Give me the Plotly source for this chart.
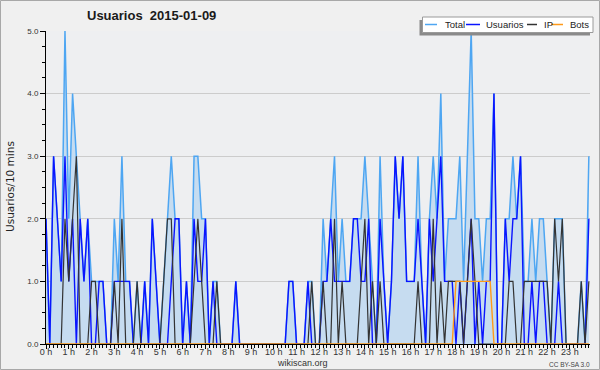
import plotly.graph_objects as go

# ---- data (10-minute slots, 2015-01-09) ----
hour_labels = [f"{h} h" for h in range(24)]
hours = list(range(24))
slots_per_hour = 6

usuarios = [
    2, 0, 3, 2, 1, 3,
    1, 2, 0, 2, 1, 2,
    0, 0, 1, 1, 0, 0,
    1, 1, 1, 1, 1, 0,
    0, 0, 1, 0, 2, 1,
    0, 0, 0, 1, 2, 2,
    0, 1, 0, 2, 1, 1,
    2, 0, 1, 0, 0, 0,
    0, 0, 1, 0, 0, 0,
    0, 0, 0, 0, 0, 0,
    0, 0, 0, 0, 1, 1,
    0, 0, 0, 1, 0, 0,
    0, 1, 1, 2, 1, 1,
    1, 1, 1, 2, 2, 1,
    1, 2, 0, 0, 2, 1,
    0, 1, 3, 2, 3, 1,
    1, 1, 2, 1, 0, 2,
    1, 2, 3, 1, 1, 1,
    0, 1, 0, 1, 2, 0,
    1, 0, 1, 1, 4, 0,
    0, 2, 1, 2, 2, 3,
    0, 0, 1, 0, 1, 1,
    0, 0, 0, 1, 0, 0,
    0, 0, 0, 0, 0, 2,
]

ip = [
    0, 0, 0, 0, 0, 2,
    1, 2, 3, 0, 0, 0,
    1, 1, 0, 0, 0, 0,
    1, 0, 2, 0, 0, 0,
    1, 0, 0, 0, 0, 0,
    0, 1, 2, 2, 0, 0,
    0, 0, 0, 1, 2, 1,
    0, 0, 0, 1, 0, 0,
    0, 0, 0, 0, 0, 0,
    0, 0, 0, 0, 0, 0,
    0, 0, 0, 0, 0, 0,
    0, 0, 0, 0, 1, 0,
    0, 1, 0, 0, 2, 0,
    1, 0, 0, 0, 0, 1,
    2, 0, 1, 0, 1, 0,
    0, 0, 0, 0, 0, 0,
    0, 0, 1, 0, 0, 0,
    2, 0, 1, 0, 1, 1,
    1, 1, 0, 1, 2, 1,
    0, 0, 0, 0, 0, 0,
    0, 0, 1, 1, 0, 0,
    1, 1, 1, 1, 1, 1,
    1, 0, 2, 1, 2, 0,
    0, 0, 0, 1, 0, 1,
]

bots = [
    0, 0, 0, 0, 0, 0,
    0, 0, 0, 0, 0, 0,
    0, 0, 0, 0, 0, 0,
    0, 0, 0, 0, 0, 0,
    0, 0, 0, 0, 0, 0,
    0, 0, 0, 0, 0, 0,
    0, 0, 0, 0, 0, 0,
    0, 0, 0, 0, 0, 0,
    0, 0, 0, 0, 0, 0,
    0, 0, 0, 0, 0, 0,
    0, 0, 0, 0, 0, 0,
    0, 0, 0, 0, 0, 0,
    0, 0, 0, 0, 0, 0,
    0, 0, 0, 0, 0, 0,
    0, 0, 0, 0, 0, 0,
    0, 0, 0, 0, 0, 0,
    0, 0, 0, 0, 0, 0,
    0, 0, 0, 0, 0, 0,
    1, 1, 1, 1, 1, 1,
    1, 1, 1, 1, 0, 0,
    0, 0, 0, 0, 0, 0,
    0, 0, 0, 0, 0, 0,
    0, 0, 0, 0, 0, 0,
    0, 0, 0, 0, 0, 0,
]

total = [
    2, 0, 3, 2, 1, 5,
    2, 4, 3, 2, 1, 2,
    1, 1, 1, 1, 0, 0,
    2, 1, 3, 1, 1, 0,
    1, 0, 1, 0, 2, 1,
    0, 1, 2, 3, 2, 2,
    0, 1, 0, 3, 3, 2,
    2, 0, 1, 1, 0, 0,
    0, 0, 1, 0, 0, 0,
    0, 0, 0, 0, 0, 0,
    0, 0, 0, 0, 1, 1,
    0, 0, 0, 1, 1, 0,
    0, 2, 1, 2, 3, 1,
    2, 1, 1, 2, 2, 2,
    3, 2, 1, 0, 3, 1,
    0, 1, 3, 2, 3, 1,
    1, 1, 3, 1, 0, 2,
    3, 2, 4, 1, 2, 2,
    2, 3, 1, 3, 5, 2,
    2, 1, 2, 2, 4, 0,
    0, 2, 2, 3, 2, 3,
    1, 1, 2, 1, 2, 2,
    1, 0, 2, 2, 2, 0,
    0, 0, 0, 1, 0, 3,
]

x = [i / slots_per_hour for i in range(len(total))]

# ---- layout geometry (pixels) ----
W, H = 600, 370
L, R, T, B = 46, 10, 31, 26
PW, PH = W - L - R, H - T - B


def px(xp):
    return (xp - L) / PW


def py(yp):
    return (H - B - yp) / PH


FONT = "Liberation Sans, Arial, sans-serif"

fig = go.Figure()
fig.add_trace(go.Scatter(x=x, y=total, mode="lines", name="Total",
                         line=dict(color="#4ea6f2", width=1.5),
                         fill="tozeroy", fillcolor="#c6dcf0"))
fig.add_trace(go.Scatter(x=x, y=usuarios, mode="lines", name="Usuarios",
                         line=dict(color="#0a14ff", width=1.4)))
fig.add_trace(go.Scatter(x=x, y=ip, mode="lines", name="IP",
                         line=dict(color="#333333", width=1.2)))
fig.add_trace(go.Scatter(x=x, y=bots, mode="lines", name="Bots",
                         line=dict(color="#ff9a1a", width=1.4)))

shapes = []
annotations = []

# outer frame
shapes.append(dict(type="rect", xref="paper", yref="paper",
                   x0=px(0.5), x1=px(599.5), y0=py(369.5), y1=py(0.5),
                   line=dict(color="#a8a8a8", width=1), fillcolor="rgba(0,0,0,0)",
                   layer="above"))

# custom legend box with shadow
shapes.append(dict(type="rect", xref="paper", yref="paper",
                   x0=px(419.5), x1=px(590), y0=py(35.5), y1=py(20),
                   line=dict(width=0), fillcolor="#8a8a8a", layer="above"))
shapes.append(dict(type="rect", xref="paper", yref="paper",
                   x0=px(422.5), x1=px(593), y0=py(32.5), y1=py(17),
                   line=dict(color="#9a9a9a", width=1), fillcolor="#ffffff",
                   layer="above"))
legend_items = [
    ("Total", "#4ea6f2", 425, 437, 442.5),
    ("Usuarios", "#0a14ff", 466, 480, 484),
    ("IP", "#333333", 527, 537, 541.5),
    ("Bots", "#ff9a1a", 551, 563, 568),
]
for name, col, lx0, lx1, tx in legend_items:
    shapes.append(dict(type="line", xref="paper", yref="paper",
                       x0=px(lx0), x1=px(lx1), y0=py(24.5), y1=py(24.5),
                       line=dict(color=col, width=1.5), layer="above"))
    annotations.append(dict(text=name, xref="paper", yref="paper",
                            x=px(tx), y=py(24.5), xanchor="left", yanchor="middle",
                            showarrow=False, font=dict(family=FONT, size=9.5, color="#222")))

# title
annotations.append(dict(text="<b>Usuarios\u00a0 2015-01-09</b>", xref="paper", yref="paper",
                        x=px(151), y=py(16), xanchor="center", yanchor="middle",
                        showarrow=False, font=dict(family=FONT, size=13, color="#1a1a1a")))
# y axis title
annotations.append(dict(text="Usuarios/10 mins", xref="paper", yref="paper",
                        x=px(10), y=py(187), xanchor="center", yanchor="middle",
                        textangle=-90, showarrow=False,
                        font=dict(family="DejaVu Sans, sans-serif", size=10.5, color="#222")))
# footer
annotations.append(dict(text="wikiscan.org", xref="paper", yref="paper",
                        x=px(302), y=py(362.5), xanchor="center", yanchor="middle",
                        showarrow=False, font=dict(family=FONT, size=9, color="#333")))
annotations.append(dict(text="CC BY-SA 3.0", xref="paper", yref="paper",
                        x=px(592), y=py(364), xanchor="right", yanchor="middle",
                        showarrow=False, font=dict(family=FONT, size=6.5, color="#444")))

fig.update_layout(
    width=W, height=H,
    margin=dict(l=L, r=R, t=T, b=B, pad=0),
    paper_bgcolor="#f0f0f0",
    plot_bgcolor="#eeeff1",
    showlegend=False,
    shapes=shapes,
    annotations=annotations,
    xaxis=dict(
        range=[0, 143.3 / slots_per_hour],
        tickmode="array", tickvals=hours, ticktext=hour_labels,
        ticks="outside", ticklen=4, tickcolor="#000", tickwidth=1,
        ticklabelstandoff=-5,
        showline=True, linecolor="#000", linewidth=1,
        showgrid=False, zeroline=False,
        tickfont=dict(family=FONT, size=9, color="#333"),
        minor=dict(tick0=0, dtick=1 / slots_per_hour, ticks="outside", ticklen=3,
                   tickcolor="#000", tickwidth=1, showgrid=False),
        fixedrange=True,
    ),
    yaxis=dict(
        range=[0, 5], dtick=1, tick0=0, tickformat=".1f",
        ticks="outside", ticklen=5, tickcolor="#000", tickwidth=1,
        showline=True, linecolor="#000", linewidth=1,
        showgrid=True, gridcolor="#cccccc", gridwidth=1, zeroline=False,
        tickfont=dict(family=FONT, size=8, color="#333"),
        minor=dict(dtick=0.25, ticks="outside", ticklen=3, tickcolor="#000",
                   tickwidth=1, showgrid=False),
        fixedrange=True,
    ),
)

fig.write_html(
    "out.html",
    config={"displayModeBar": False},
    post_script="document.body.style.margin='0';document.body.style.overflow='hidden';",
)
